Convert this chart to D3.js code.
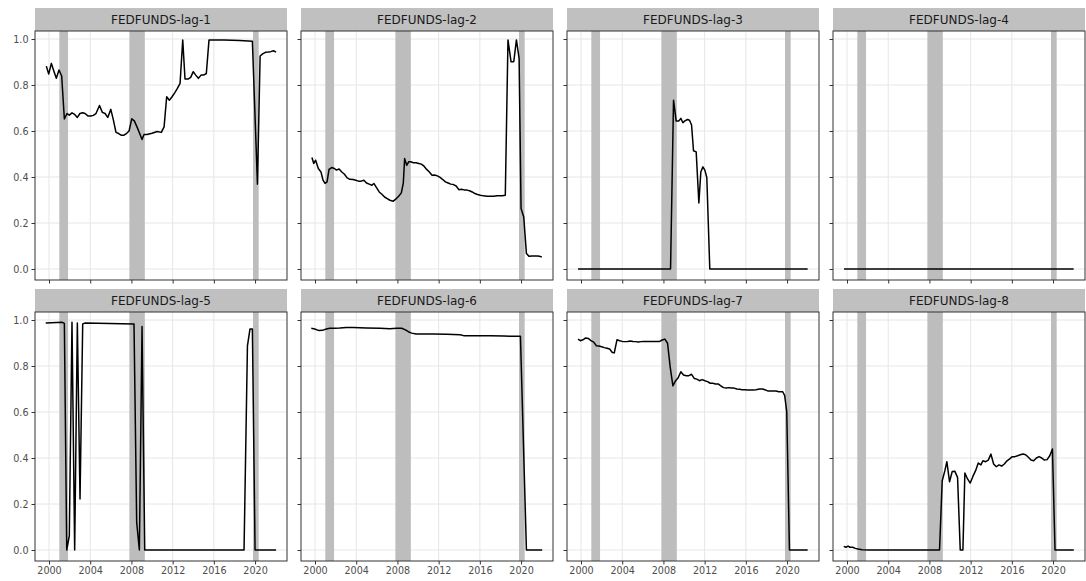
<!DOCTYPE html>
<html>
<head>
<meta charset="utf-8">
<script src="https://cdn.jsdelivr.net/npm/d3@7"></script>
<style>
  html, body { margin: 0; padding: 0; background: #ffffff; }
  svg { display: block; font-family: "DejaVu Sans", sans-serif; }
</style>
</head>
<body>
<svg id="chart" width="1086" height="581"></svg>
<script>
// Facet titles, in reading order (two rows of four)
const panels = ["FEDFUNDS-lag-1", "FEDFUNDS-lag-2", "FEDFUNDS-lag-3", "FEDFUNDS-lag-4",
                "FEDFUNDS-lag-5", "FEDFUNDS-lag-6", "FEDFUNDS-lag-7", "FEDFUNDS-lag-8"];

// Axis ticks
const xTicks = [2000, 2004, 2008, 2012, 2016, 2020];
const yTicks = [0, 0.2, 0.4, 0.6, 0.8, 1.0];

// Recession periods (decimal years)
const recessions = [[2001.0, 2001.85], [2007.8, 2009.3], [2019.8, 2020.35]];

// Series: [decimal year, value]
const lag1 = [[1999.74,.882],[1999.97,.848],[2000.23,.894],[2000.49,.858],[2000.71,.829],[2000.97,.865],
  [2001.23,.839],[2001.49,.652],[2001.75,.676],[2001.97,.669],[2002.23,.679],[2002.49,.672],[2002.75,.659],
  [2003.0,.676],[2003.27,.679],[2003.5,.676],[2003.8,.665],[2004.05,.665],[2004.3,.668],[2004.56,.676],
  [2004.9,.711],[2005.18,.681],[2005.44,.676],[2005.7,.659],[2006.0,.694],[2006.25,.647],[2006.5,.594],
  [2006.76,.589],[2007.0,.582],[2007.28,.582],[2007.54,.590],[2007.77,.600],[2008.03,.653],[2008.28,.644],
  [2008.54,.618],[2008.77,.592],[2009.03,.563],[2009.22,.585],[2009.5,.585],[2010.0,.590],[2010.5,.598],
  [2010.9,.594],[2011.17,.618],[2011.42,.749],[2011.68,.734],[2011.94,.749],[2012.2,.766],[2012.46,.785],
  [2012.72,.807],[2012.98,.996],[2013.2,.826],[2013.5,.826],[2013.75,.833],[2014.0,.858],[2014.24,.843],
  [2014.5,.829],[2014.76,.843],[2015.0,.843],[2015.27,.850],[2015.53,.996],[2017.0,.996],[2018.5,.993],
  [2019.74,.990],[2020.23,.369],[2020.49,.926],[2020.74,.935],[2021.0,.942],[2021.26,.943],[2021.52,.945],
  [2021.78,.949],[2022.04,.943]];

const lag2 = [[1999.7,.485],[1999.88,.459],[2000.06,.473],[2000.32,.437],[2000.58,.422],[2000.78,.386],
  [2000.97,.372],[2001.17,.379],[2001.36,.433],[2001.62,.441],[2001.88,.437],[2002.08,.430],[2002.34,.435],
  [2002.6,.422],[2002.86,.412],[2003.12,.396],[2003.38,.390],[2003.7,.389],[2003.96,.386],[2004.22,.382],
  [2004.48,.382],[2004.74,.386],[2005.0,.374],[2005.26,.369],[2005.52,.364],[2005.71,.372],[2005.97,.354],
  [2006.23,.335],[2006.49,.325],[2006.75,.313],[2007.01,.306],[2007.27,.299],[2007.6,.295],[2007.86,.305],
  [2008.12,.316],[2008.38,.331],[2008.57,.374],[2008.7,.480],[2008.9,.451],[2009.09,.466],[2009.29,.466],
  [2009.55,.462],[2009.81,.462],[2010.06,.459],[2010.32,.456],[2010.58,.447],[2010.84,.433],[2011.1,.422],
  [2011.36,.408],[2011.62,.409],[2011.88,.405],[2012.14,.398],[2012.4,.389],[2012.66,.379],[2012.92,.374],
  [2013.18,.369],[2013.44,.367],[2013.7,.361],[2013.96,.345],[2014.22,.347],[2014.48,.344],[2014.74,.343],
  [2015.0,.340],[2015.26,.335],[2015.52,.328],[2015.78,.324],[2016.04,.321],[2016.36,.318],[2016.69,.316],
  [2017.01,.316],[2017.34,.316],[2017.66,.318],[2018.18,.319],[2018.47,.321],[2018.73,.996],[2019.03,.901],
  [2019.29,.901],[2019.55,.996],[2019.81,.916],[2020.0,.263],[2020.26,.226],[2020.52,.067],[2020.78,.055],
  [2021.04,.057],[2021.3,.057],[2021.56,.057],[2021.82,.055],[2022.01,.052]];

const lag3 = [[1999.71,0],[2008.69,0],[2008.98,.734],[2009.24,.643],[2009.5,.644],[2009.69,.655],
  [2009.89,.636],[2010.08,.644],[2010.34,.650],[2010.53,.647],[2010.73,.626],[2010.92,.514],[2011.18,.509],
  [2011.44,.287],[2011.63,.422],[2011.83,.444],[2012.02,.430],[2012.21,.398],[2012.5,0],[2022.0,0]];

const lag4 = [[1999.71,0],[2005.0,0],[2010.0,0],[2015.0,0],[2022.0,0]];

const lag5 = [[1999.68,.987],[2001.29,.990],[2001.49,.985],[2001.72,0],[2001.97,.062],[2002.23,.990],
  [2002.49,0],[2002.75,.987],[2003.01,.222],[2003.27,.983],[2003.53,.987],[2008.25,.983],[2008.51,.120],
  [2008.77,0],[2009.03,.972],[2009.29,0],[2018.93,0],[2019.26,.888],[2019.51,.961],[2019.74,.961],
  [2020.0,0],[2022.04,0]];

const lag6 = [[1999.64,.964],[1999.97,.961],[2000.39,.954],[2000.71,.955],[2001.1,.961],[2001.43,.964],
  [2001.92,.964],[2002.4,.965],[2003.05,.967],[2003.7,.967],[2005.0,.965],[2006.3,.964],[2007.27,.962],
  [2007.92,.964],[2008.41,.964],[2008.73,.958],[2009.06,.949],[2009.38,.943],[2009.81,.939],[2010.52,.939],
  [2011.49,.939],[2012.79,.938],[2014.09,.936],[2014.42,.932],[2015.71,.932],[2017.01,.932],[2018.31,.930],
  [2019.29,.929],[2019.94,.929],[2020.52,0],[2022.05,0]];

const lag7 = [[1999.71,.917],[1999.94,.910],[2000.19,.914],[2000.45,.922],[2000.71,.920],[2000.97,.910],
  [2001.23,.904],[2001.49,.888],[2001.74,.887],[2002.0,.884],[2002.26,.880],[2002.52,.877],[2002.78,.874],
  [2003.04,.859],[2003.23,.857],[2003.49,.914],[2003.75,.910],[2004.01,.907],[2004.26,.906],[2004.52,.907],
  [2004.78,.909],[2005.04,.907],[2005.3,.906],[2005.56,.904],[2005.82,.906],[2006.07,.907],[2006.33,.907],
  [2006.59,.907],[2006.85,.907],[2007.11,.907],[2007.37,.907],[2007.63,.907],[2007.88,.913],[2008.14,.917],
  [2008.4,.899],[2008.66,.794],[2008.92,.714],[2009.18,.736],[2009.43,.749],[2009.69,.775],[2009.95,.761],
  [2010.21,.758],[2010.47,.758],[2010.73,.764],[2010.99,.746],[2011.24,.743],[2011.5,.736],[2011.76,.741],
  [2012.02,.736],[2012.28,.732],[2012.54,.725],[2012.79,.725],[2013.05,.722],[2013.31,.722],[2013.57,.714],
  [2013.83,.706],[2014.09,.704],[2014.35,.706],[2014.6,.704],[2014.86,.704],[2015.12,.700],[2015.38,.699],
  [2015.64,.697],[2015.9,.697],[2016.16,.696],[2016.41,.696],[2016.67,.696],[2016.99,.697],[2017.32,.700],
  [2017.64,.700],[2017.9,.696],[2018.16,.691],[2018.42,.691],[2018.68,.691],[2018.93,.691],[2019.19,.688],
  [2019.58,.688],[2019.77,.671],[2019.97,.601],[2020.23,0],[2022.0,0]];

const lag8 = [[1999.68,.016],[1999.9,.012],[2000.1,.017],[2000.29,.012],[2000.55,.012],[2000.81,.007],
  [2001.07,.004],[2001.46,.001],[2002.1,0],[2008.98,0],[2009.24,.301],[2009.5,.345],[2009.69,.384],
  [2009.95,.297],[2010.21,.341],[2010.47,.342],[2010.73,.316],[2010.99,0],[2011.25,0],[2011.44,.335],
  [2011.7,.309],[2011.96,.291],[2012.22,.320],[2012.48,.345],[2012.74,.378],[2013.0,.370],[2013.19,.388],
  [2013.45,.384],[2013.71,.391],[2013.97,.417],[2014.23,.374],[2014.49,.362],[2014.75,.370],[2015.01,.365],
  [2015.27,.374],[2015.53,.388],[2015.79,.396],[2016.05,.406],[2016.3,.406],[2016.56,.410],[2016.82,.414],
  [2017.08,.417],[2017.34,.414],[2017.6,.403],[2017.86,.391],[2018.12,.388],[2018.38,.400],[2018.64,.406],
  [2018.9,.400],[2019.16,.391],[2019.42,.393],[2019.68,.410],[2019.94,.439],[2020.19,0],[2022.01,0]];

const seriesList = [lag1, lag2, lag3, lag4, lag5, lag6, lag7, lag8];

// Facet grid geometry
const colLeft = [35, 301, 567, 833];
const panelW = 252;
const rowTop = [31, 312];     // top of each plotting area
const panelH = 249;
const stripH = 23;

const svg = d3.select("#chart");

const x = d3.scaleLinear().domain([1998.64, 2023.1]).range([0, panelW]);
const y = d3.scaleLinear().domain([-0.0478, 1.0348]).range([panelH, 0]);

const line = d3.line().x(d => x(d[0])).y(d => y(d[1]));

panels.forEach((name, i) => {
  const row = Math.floor(i / 4), col = i % 4;
  const g = svg.append("g").attr("transform", `translate(${colLeft[col]},${rowTop[row]})`);

  // strip
  g.append("rect")
    .attr("x", 0).attr("y", -stripH).attr("width", panelW).attr("height", stripH)
    .attr("fill", "#c0c0c0");
  g.append("text")
    .attr("x", panelW / 2).attr("y", -stripH / 2)
    .attr("dy", "0.36em")
    .attr("text-anchor", "middle")
    .attr("font-size", 12)
    .attr("fill", "#1a1a1a")
    .text(name);

  // panel background
  g.append("rect").attr("width", panelW).attr("height", panelH).attr("fill", "#ffffff");

  // grid
  g.append("g").selectAll("line").data(yTicks).join("line")
    .attr("x1", 0).attr("x2", panelW)
    .attr("y1", d => y(d)).attr("y2", d => y(d))
    .attr("stroke", "#e6e6e6").attr("stroke-width", 1);
  g.append("g").selectAll("line").data(xTicks).join("line")
    .attr("y1", 0).attr("y2", panelH)
    .attr("x1", d => x(d)).attr("x2", d => x(d))
    .attr("stroke", "#e6e6e6").attr("stroke-width", 1);

  // recession shading
  g.append("g").selectAll("rect").data(recessions).join("rect")
    .attr("x", d => x(d[0])).attr("width", d => x(d[1]) - x(d[0]))
    .attr("y", 0).attr("height", panelH)
    .attr("fill", "#bdbdbd");

  // series
  g.append("path")
    .datum(seriesList[i])
    .attr("d", line)
    .attr("fill", "none")
    .attr("stroke", "#000000")
    .attr("stroke-width", 1.5)
    .attr("stroke-linejoin", "round");

  // axes
  const xAxis = d3.axisBottom(x).tickValues(xTicks).tickSize(3.5).tickPadding(3)
    .tickFormat(row === 1 ? d3.format("d") : () => "");
  const yAxis = d3.axisLeft(y).tickValues(yTicks).tickSize(3.5).tickPadding(3)
    .tickFormat(col === 0 ? d3.format(".1f") : () => "");

  const gx = g.append("g").attr("transform", `translate(0,${panelH})`).call(xAxis);
  const gy = g.append("g").call(yAxis);
  [gx, gy].forEach(a => {
    a.select(".domain").remove();
    a.selectAll(".tick line").attr("stroke", "#333333");
    a.selectAll(".tick text").attr("fill", "#4d4d4d").attr("font-size", 9.6)
      .attr("font-family", "DejaVu Sans, sans-serif");
  });

  // panel border
  g.append("rect").attr("width", panelW).attr("height", panelH)
    .attr("fill", "none").attr("stroke", "#333333").attr("stroke-width", 1);
});
</script>
</body>
</html>
